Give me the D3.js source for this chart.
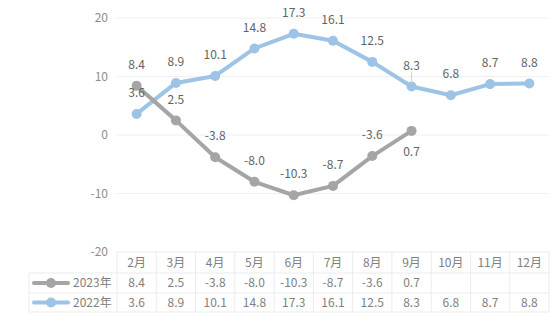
<!DOCTYPE html>
<html><head><meta charset="utf-8">
<script src="https://cdn.jsdelivr.net/npm/d3@7"></script>
<style>body{margin:0;background:#fff;}svg{display:block;font-family:"Noto Sans CJK SC","Noto Sans",sans-serif;}</style>
</head><body><svg id="c" width="559" height="327"></svg>
<script>
const categories = ["2月","3月","4月","5月","6月","7月","8月","9月","10月","11月","12月"];
const seriesNames = ["2023年","2022年"];
const values2023 = [8.4,2.5,-3.8,-8.0,-10.3,-8.7,-3.6,0.7,null,null,null];
const values2022 = [3.6,8.9,10.1,14.8,17.3,16.1,12.5,8.3,6.8,8.7,8.8];
const yTicks = [-20,-10,0,10,20];
const colors = ["#a5a5a5","#9dc3e6"];

const svg = d3.select("#c");
const L = 117, R = 549, T = 18, B = 252;
const x = d3.scaleBand().domain(categories).range([L,R]);
const y = d3.scaleLinear().domain([-20,20]).range([B,T]);

// gridlines
svg.append("g").selectAll("line").data(yTicks.filter(d=>d>-20)).join("line")
  .attr("x1",L).attr("x2",R).attr("y1",d=>y(d)).attr("y2",d=>y(d))
  .attr("stroke","#efefef").attr("stroke-width",1);

// y axis labels
const yAxis = d3.axisLeft(y).tickValues(yTicks).tickSize(0).tickPadding(9).tickFormat(d=>String(d));
const ya = svg.append("g").attr("transform",`translate(${L},0)`).call(yAxis);
ya.select(".domain").remove();
ya.selectAll("text").attr("fill","#8c8c8c").style("font-size","12px").style("font-family","'Noto Sans CJK SC','Noto Sans',sans-serif");

const cx = d => x(d) + x.bandwidth()/2;
const datasets = [values2023, values2022];

[1,0].forEach(i=>{
  const pts = categories.map((c,j)=>({c,v:datasets[i][j]})).filter(p=>p.v!==null);
  const line = d3.line().x(p=>cx(p.c)).y(p=>y(p.v));
  svg.append("path").datum(pts).attr("d",line).attr("fill","none")
    .attr("stroke",colors[i]).attr("stroke-width",4).attr("stroke-linejoin","round").attr("stroke-linecap","round");
  svg.append("g").selectAll("circle").data(pts).join("circle")
    .attr("cx",p=>cx(p.c)).attr("cy",p=>y(p.v)).attr("r",5).attr("fill",colors[i]);
});

// leader line for 8.3
svg.append("line").attr("x1",cx("9月")).attr("x2",cx("9月"))
  .attr("y1",y(8.3)-14).attr("y2",y(8.3)-3).attr("stroke","#d0d0d0").attr("stroke-width",1);

// data labels
const fmt = v => v.toFixed(1);
datasets.forEach((vals,i)=>{
  const pts = categories.map((c,j)=>({c,v:vals[j],j})).filter(p=>p.v!==null);
  svg.append("g").selectAll("text").data(pts).join("text")
    .attr("x",p=>cx(p.c))
    .attr("y",p=>{
      const below = (i===0 && p.c==="9月");
      return below ? y(p.v)+21 : y(p.v)-21;
    })
    .attr("dy","0.35em").attr("text-anchor","middle")
    .attr("fill","#636363").style("font-size","12px")
    .text(p=>fmt(p.v));
});

// table
const rowY = [252,273,293,312];
const tbl = svg.append("g");
const gridC = "#ebebeb";
tbl.append("line").attr("x1",L).attr("x2",R).attr("y1",rowY[0]).attr("y2",rowY[0]).attr("stroke",gridC);
[1,2,3].forEach(k=>{
  tbl.append("line").attr("x1",29).attr("x2",R).attr("y1",rowY[k]).attr("y2",rowY[k]).attr("stroke",gridC);
});
const vx = categories.map(c=>x(c)).concat([R]);
vx.forEach(v=>{
  tbl.append("line").attr("x1",v).attr("x2",v).attr("y1",rowY[0]).attr("y2",rowY[3]).attr("stroke",gridC);
});
tbl.append("line").attr("x1",29).attr("x2",29).attr("y1",rowY[1]).attr("y2",rowY[3]).attr("stroke",gridC);

tbl.append("g").selectAll("text").data(categories).join("text")
  .attr("x",c=>cx(c)).attr("y",(rowY[0]+rowY[1])/2).attr("dy","0.35em")
  .attr("text-anchor","middle").attr("fill","#808080").style("font-size","12px").text(c=>c);

datasets.forEach((vals,i)=>{
  const ry = (rowY[i+1]+rowY[i+2])/2;
  tbl.append("g").selectAll("text").data(categories.map((c,j)=>({c,v:vals[j]})).filter(p=>p.v!==null)).join("text")
    .attr("x",p=>cx(p.c)).attr("y",ry).attr("dy","0.35em")
    .attr("text-anchor","middle").attr("fill","#808080").style("font-size","12px").text(p=>fmt(p.v));
  tbl.append("line").attr("x1",34).attr("x2",68).attr("y1",ry).attr("y2",ry)
    .attr("stroke",colors[i]).attr("stroke-width",4).attr("stroke-linecap","round");
  tbl.append("circle").attr("cx",51).attr("cy",ry).attr("r",5).attr("fill",colors[i]);
  tbl.append("text").attr("x",73).attr("y",ry).attr("dy","0.35em").attr("fill","#808080")
    .style("font-size","12px").text(seriesNames[i]);
});
</script></body></html>
